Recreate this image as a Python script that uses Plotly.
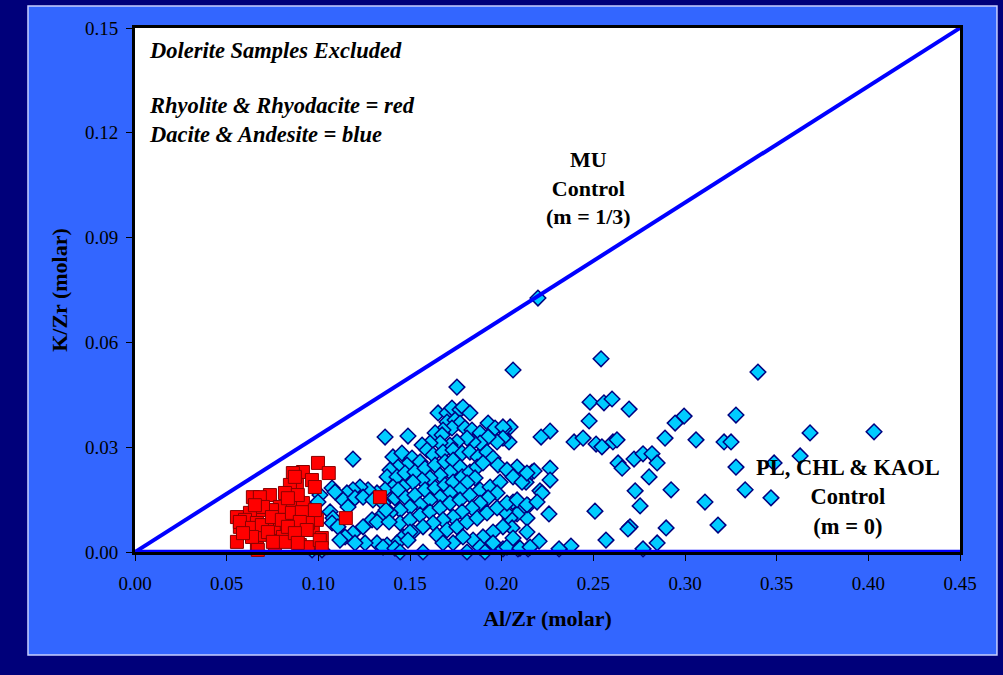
import plotly.graph_objects as go

# Al/Zr vs K/Zr (molar) for felsic (red) and intermediate (blue) volcanics
red_x = [0.0998, 0.1057, 0.0916, 0.0861, 0.0965, 0.0981, 0.0883, 0.0845, 0.0818, 0.0736,
         0.0643, 0.0888, 0.0916, 0.0845, 0.0790, 0.0747, 0.0681, 0.0627, 0.0556, 0.0600,
         0.0572, 0.0610, 0.0681, 0.0736, 0.0779, 0.0828, 0.0883, 0.0927, 0.0981, 0.0970,
         0.0916, 0.0861, 0.0807, 0.0720, 0.0665, 0.0556, 0.0665, 0.0763, 0.0818, 0.0899,
         0.0943, 0.1019, 0.0992, 0.0981, 0.0872, 0.0681, 0.0888, 0.0834, 0.0698, 0.0654,
         0.0572, 0.0638, 0.0692, 0.0747, 0.0801, 0.0856, 0.0910, 0.0943, 0.0899, 0.0834,
         0.0725, 0.0638, 0.0589, 0.0937, 0.0872, 0.0752, 0.0888, 0.1008, 0.0670, 0.1019,
         0.1336, 0.1150]
red_y = [0.0255, 0.0226, 0.0229, 0.0226, 0.0206, 0.0186, 0.0192, 0.0192, 0.0169, 0.0163,
         0.0157, 0.0143, 0.0140, 0.0126, 0.0129, 0.0120, 0.0120, 0.0112, 0.0100, 0.0092,
         0.0072, 0.0057, 0.0049, 0.0063, 0.0069, 0.0083, 0.0097, 0.0112, 0.0100, 0.0072,
         0.0063, 0.0054, 0.0043, 0.0077, 0.0083, 0.0029, 0.0011, 0.0014, 0.0029, 0.0020,
         0.0014, 0.0040, 0.0092, 0.0120, 0.0215, 0.0157, 0.0163, 0.0154, 0.0129, 0.0134,
         0.0086, 0.0069, 0.0077, 0.0100, 0.0092, 0.0112, 0.0114, 0.0083, 0.0086, 0.0072,
         0.0057, 0.0043, 0.0054, 0.0063, 0.0054, 0.0029, 0.0026, 0.0034, 0.0006, 0.0011,
         0.0157, 0.0097]

blue_x = [
    0.2542, 0.2062, 0.3398, 0.2482, 0.2558, 0.2602, 0.2695, 0.2477, 0.3278, 0.2995,
    0.2946, 0.3682, 0.4031, 0.2891, 0.3060, 0.3213, 0.3251, 0.2264, 0.2215, 0.2395,
    0.2444, 0.2515, 0.2547, 0.2607, 0.2629, 0.2635, 0.2657, 0.2722, 0.2771, 0.2820,
    0.2848, 0.2804, 0.3278, 0.3628, 0.3486, 0.3328, 0.3469, 0.3109, 0.2924, 0.2728,
    0.2755, 0.3180, 0.2897, 0.2700, 0.2689, 0.2509, 0.2569, 0.2848, 0.2771, 0.2378,
    0.2313, 0.2204, 0.2258, 0.2264, 0.2264, 0.2209, 0.2220, 0.2133, 0.2166, 0.2177,
    0.2084, 0.2051, 0.2040, 0.2046, 0.2013, 0.2062, 0.2144, 0.2138, 0.2100, 0.2084,
    0.2046, 0.2057, 0.2018, 0.2144, 0.2089, 0.2007,
    0.1756, 0.1364, 0.1489, 0.1189, 0.2198, 0.1653, 0.1702, 0.1729, 0.1773, 0.1789,
    0.1827, 0.1702, 0.1746, 0.1773, 0.1729, 0.1680, 0.1637, 0.1675, 0.1800, 0.1838,
    0.1882, 0.1926, 0.1964, 0.2007, 0.2007, 0.1975, 0.1926, 0.1882, 0.1844, 0.1811,
    0.1756, 0.1718, 0.1664, 0.1609, 0.1566, 0.1593, 0.1626, 0.1680, 0.1735, 0.1784,
    0.1827, 0.1871, 0.1920, 0.1953, 0.1980, 0.2029, 0.2062, 0.2111, 0.2138,
    0.1407, 0.1456, 0.1511, 0.1555, 0.1484, 0.1435, 0.1391, 0.1375, 0.1429, 0.1473,
    0.1527, 0.1582, 0.1637, 0.1691, 0.1735, 0.1773, 0.1718, 0.1664, 0.1609, 0.1566,
    0.1516, 0.1462, 0.1407, 0.1364, 0.1320, 0.1271, 0.1227, 0.1189, 0.1156, 0.1135,
    0.1200, 0.1244, 0.1298, 0.1353, 0.1418, 0.1473, 0.1527, 0.1582, 0.1637, 0.1691,
    0.1735, 0.1784, 0.1827, 0.1866, 0.1898, 0.1855, 0.1811, 0.1773, 0.1718, 0.1664,
    0.1609, 0.1555, 0.1500, 0.1446, 0.1391, 0.1336, 0.1293, 0.1244, 0.1189, 0.1146,
    0.1446, 0.1500, 0.1555, 0.1609, 0.1664, 0.1718, 0.1773, 0.1827, 0.1882, 0.1937,
    0.1991, 0.1975, 0.1926, 0.1882, 0.1838, 0.1784, 0.1735, 0.1680, 0.1626, 0.1571,
    0.1516, 0.1462, 0.1429, 0.1375, 0.1320, 0.1255, 0.1200, 0.1647, 0.1702, 0.1756,
    0.1811, 0.1866, 0.1920, 0.1975, 0.2029, 0.2084, 0.2138, 0.2193, 0.2007, 0.1953,
    0.1898, 0.1844, 0.1789, 0.1735, 0.1680, 0.1882, 0.1953, 0.2029, 0.2100, 0.2155,
    0.2138, 0.2062,
    0.1075, 0.1091, 0.1009, 0.0998, 0.1064, 0.1080, 0.1075, 0.1107, 0.1118, 0.0966,
    0.1020, 0.1162, 0.1320, 0.1386, 0.1369, 0.1435, 0.1500, 0.1489, 0.1353, 0.1418,
    0.1446, 0.1571, 0.1811, 0.1909]
blue_y = [
    0.0553, 0.0521, 0.0515, 0.0429, 0.0427, 0.0438, 0.0409, 0.0375, 0.0392, 0.0389,
    0.0369, 0.0341, 0.0344, 0.0326, 0.0321, 0.0315, 0.0315, 0.0346, 0.0329, 0.0315,
    0.0326, 0.0309, 0.0301, 0.0315, 0.0321, 0.0255, 0.0240, 0.0266, 0.0281, 0.0281,
    0.0255, 0.0215, 0.0243, 0.0275, 0.0255, 0.0178, 0.0155, 0.0143, 0.0178, 0.0175,
    0.0132, 0.0077, 0.0069, 0.0072, 0.0066, 0.0117, 0.0034, 0.0026, 0.0009, 0.0017,
    0.0009, 0.0031, 0.0109, 0.0240, 0.0206, 0.0175, 0.0169, 0.0200, 0.0229, 0.0232,
    0.0243, 0.0223, 0.0315, 0.0358, 0.0352, 0.0143, 0.0132, 0.0097, 0.0120, 0.0109,
    0.0097, 0.0069, 0.0115, 0.0009, 0.0009, 0.0009,
    0.0472, 0.0329, 0.0332, 0.0266, 0.0727, 0.0398, 0.0398, 0.0412, 0.0407, 0.0415,
    0.0398, 0.0372, 0.0378, 0.0369, 0.0355, 0.0349, 0.0341, 0.0335, 0.0355, 0.0349,
    0.0341, 0.0369, 0.0355, 0.0358, 0.0326, 0.0315, 0.0329, 0.0312, 0.0315, 0.0326,
    0.0315, 0.0306, 0.0312, 0.0312, 0.0306, 0.0292, 0.0278, 0.0286, 0.0292, 0.0283,
    0.0286, 0.0272, 0.0286, 0.0269, 0.0249, 0.0235, 0.0215, 0.0200, 0.0226,
    0.0272, 0.0283, 0.0269, 0.0258, 0.0249, 0.0243, 0.0235, 0.0215, 0.0215, 0.0226,
    0.0229, 0.0240, 0.0249, 0.0258, 0.0263, 0.0243, 0.0229, 0.0220, 0.0212, 0.0206,
    0.0200, 0.0186, 0.0186, 0.0178, 0.0169, 0.0178, 0.0186, 0.0178, 0.0169, 0.0149,
    0.0155, 0.0157, 0.0149, 0.0140, 0.0155, 0.0157, 0.0163, 0.0178, 0.0183, 0.0192,
    0.0200, 0.0215, 0.0229, 0.0243, 0.0255, 0.0212, 0.0198, 0.0178, 0.0169, 0.0157,
    0.0149, 0.0135, 0.0129, 0.0120, 0.0112, 0.0100, 0.0092, 0.0072, 0.0054, 0.0043,
    0.0083, 0.0092, 0.0106, 0.0115, 0.0126, 0.0140, 0.0149, 0.0163, 0.0178, 0.0186,
    0.0200, 0.0169, 0.0155, 0.0140, 0.0126, 0.0115, 0.0100, 0.0092, 0.0083, 0.0072,
    0.0057, 0.0043, 0.0026, 0.0020, 0.0026, 0.0026, 0.0026, 0.0049, 0.0063, 0.0072,
    0.0086, 0.0097, 0.0112, 0.0126, 0.0140, 0.0149, 0.0135, 0.0143, 0.0072, 0.0057,
    0.0043, 0.0034, 0.0043, 0.0026, 0.0026, 0.0014, 0.0026, 0.0014, 0.0011, 0.0014,
    0.0057, 0.0040,
    0.0183, 0.0172, 0.0163, 0.0143, 0.0115, 0.0097, 0.0083, 0.0072, 0.0034, 0.0006,
    0.0006, 0.0129, 0.0086, 0.0086, 0.0120, 0.0178, 0.0057, 0.0034, 0.0014, 0.0011,
    0.0000, 0.0000, 0.0000, 0.0000]

# Control lines: muscovite (slope 1/3) and plagioclase/chlorite/kaolinite (slope 0)
line_x = [0.0, 0.45]
mu_slope = 1 / 3
pl_slope = 0.0

x_ticks = [0.00, 0.05, 0.10, 0.15, 0.20, 0.25, 0.30, 0.35, 0.40, 0.45]
y_ticks = [0.00, 0.03, 0.06, 0.09, 0.12, 0.15]

SERIF = "Liberation Serif"
NAVY = "#000080"

fig = go.Figure()

fig.add_trace(go.Scatter(
    x=blue_x, y=blue_y, mode="markers", cliponaxis=False,
    marker=dict(symbol="diamond", size=12, color="#00CCFF",
                line=dict(color=NAVY, width=1.5)),
    name="Dacite & Andesite"))

fig.add_trace(go.Scatter(
    x=red_x, y=red_y, mode="markers", cliponaxis=False,
    marker=dict(symbol="square", size=13, color="#FF0000",
                line=dict(color="#880000", width=1)),
    name="Rhyolite & Rhyodacite"))

fig.add_trace(go.Scatter(
    x=line_x, y=[mu_slope * v for v in line_x], mode="lines", cliponaxis=False,
    line=dict(color="#0000FF", width=4), name="MU control"))

fig.add_trace(go.Scatter(
    x=line_x, y=[pl_slope * v for v in line_x], mode="lines", cliponaxis=False,
    line=dict(color="#0000FF", width=4.5), name="PL, CHL & KAOL control"))

# slide-style blue panel behind the chart, then the white plotting area on top of it
fig.add_shape(type="rect", xref="paper", yref="paper",
              x0=-0.1297, x1=1.0448, y0=-0.1966, y1=1.042,
              fillcolor="#3366FF", line=dict(color="#C8D0FF", width=1.5),
              layer="below")
fig.add_shape(type="rect", xref="paper", yref="paper",
              x0=0, x1=1, y0=0, y1=1,
              fillcolor="white", line=dict(width=0), layer="below")

fig.add_annotation(x=0.0065, y=0.1437, xanchor="left", yanchor="middle",
                   text="<b><i>Dolerite Samples Excluded</i></b>", showarrow=False,
                   font=dict(family=SERIF, size=22.5, color="black"))
fig.add_annotation(x=0.0065, y=0.1238, xanchor="left", yanchor="middle", align="left",
                   text="<b><i>Rhyolite &amp; Rhyodacite = red<br>Dacite &amp; Andesite = blue</i></b>",
                   showarrow=False, font=dict(family=SERIF, size=22.5, color="black"))
fig.add_annotation(x=0.2476, y=0.1042, xanchor="center", yanchor="middle", align="center",
                   text="<b>MU<br>Control<br>(m = 1/3)</b>", showarrow=False,
                   font=dict(family=SERIF, size=22, color="black"))
fig.add_annotation(x=0.389, y=0.0157, xanchor="center", yanchor="middle", align="center",
                   text="<b>PL, CHL &amp; KAOL<br>Control<br>(m = 0)</b>", showarrow=False,
                   font=dict(family=SERIF, size=22.5, color="black"))

axis_common = dict(showgrid=False, zeroline=False, showline=True, mirror=True,
                   linecolor="black", linewidth=3, ticks="outside", ticklen=6,
                   tickcolor="black", tickwidth=1,
                   tickfont=dict(family=SERIF, size=19, color="black"))

fig.update_xaxes(range=[0, 0.45], tickvals=x_ticks, tickformat=".2f",
                 ticklabelstandoff=6,
                 title=dict(text="<b>Al/Zr (molar)</b>", standoff=18,
                            font=dict(family=SERIF, size=22, color="black")),
                 **axis_common)
fig.update_yaxes(range=[0, 0.15], tickvals=y_ticks, tickformat=".2f",
                 ticklabelstandoff=4,
                 title=dict(text="<b>K/Zr (molar)</b>", standoff=12,
                            font=dict(family=SERIF, size=22, color="black")),
                 **axis_common)

fig.update_layout(width=1003, height=675, showlegend=False,
                  paper_bgcolor="#00007A", plot_bgcolor="white",
                  margin=dict(l=135, r=43, t=28, b=123))

fig.write_html("out.html")
